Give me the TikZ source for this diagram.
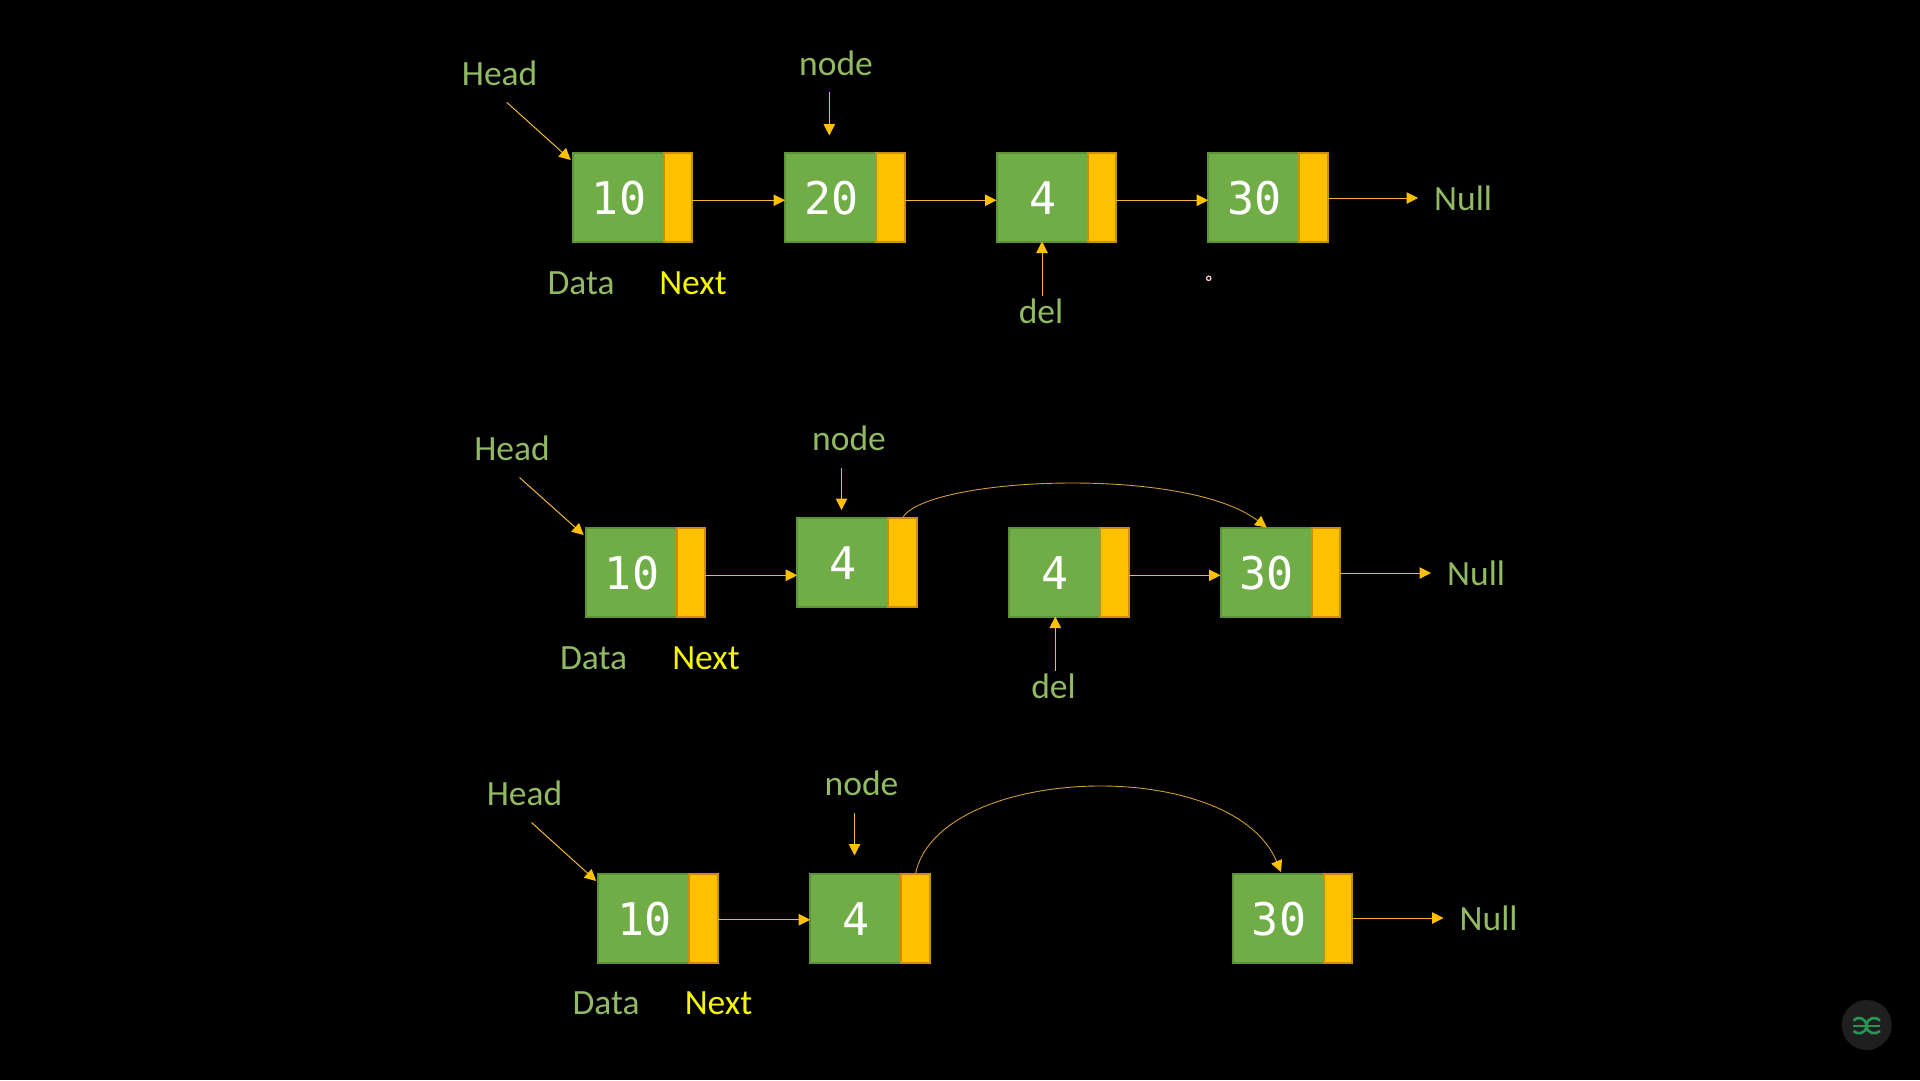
\documentclass[tikz,border=0pt]{standalone}
\usepackage{fontspec}
\setmainfont{Carlito}
\newfontfamily\nummono{DejaVu Sans Mono}
\usetikzlibrary{arrows.meta}
\definecolor{cellgreen}{HTML}{70AD47}
\definecolor{cellgreenb}{HTML}{5E9238}
\definecolor{cellyellow}{HTML}{FFC000}
\definecolor{cellyellowb}{HTML}{CC8F0A}
\definecolor{lblgreen}{HTML}{92BA64}
\definecolor{lblyellow}{HTML}{F6F600}
\definecolor{wire}{HTML}{F2B640}
\tikzset{
  datacell/.style={draw=cellgreenb,fill=cellgreen,line width=2pt,minimum width=91pt,minimum height=88.5pt,inner sep=0pt,outer sep=0pt,anchor=north west},
  cellnum/.style={text=white,font=\nummono\fontsize{45pt}{46pt}\selectfont,inner sep=0pt},
  nextcell/.style={draw=cellyellowb,fill=cellyellow,line width=2pt,minimum width=28.5pt,minimum height=88.5pt,inner sep=0pt,outer sep=0pt,anchor=north west},
  lbl/.style={text=lblgreen,font=\fontsize{35.5pt}{37pt}\selectfont,inner sep=0pt},
  lblnext/.style={text=lblyellow,font=\fontsize{35.5pt}{37pt}\selectfont,inner sep=0pt},
  conn/.style={draw=wire,line width=1pt,-{Triangle[length=11.5pt,width=11.5pt,color=cellyellow]}},
  thincurve/.style={draw=wire!85!black,line width=0.9pt,-{Triangle[length=11.5pt,width=11.5pt,color=cellyellow]}}
}
% name, x, y, text
\newcommand{\llcell}[4]{%
  \node[datacell] (#1) at (#2+0.7,#3+0.5) {};
  \node[nextcell] (#1y) at (#2+91.7,#3+0.5) {};
  \node[cellnum] (#1t) at (#2+47,#3+45.5) {#4};
}
% from-cell to-cell
\newcommand{\lllink}[2]{\draw[conn] ([yshift=-3pt]#1y.east) -- ([yshift=-3pt]#2.west);}
\begin{document}
\begin{tikzpicture}[x=1pt,y=-1pt]
\useasboundingbox (0,0) rectangle (1920,1080);
\fill[black] (0,0) rectangle (1920,1080);

% ---- Row 1
\llcell{a1}{572}{152.5}{10}
\llcell{a2}{784.3}{152.5}{20}
\llcell{a3}{995.8}{152.5}{4}
\llcell{a4}{1207.5}{152.5}{30}
\lllink{a1}{a2}
\lllink{a2}{a3}
\lllink{a3}{a4}
\node[lbl] (headA) at (499.6,73) {Head};
\node[lbl] (nodeA) at (836,63) {node};
\node[lbl] (dataA) at (581,283.5) {Data};
\node[lblnext] (nextA) at (693,283.5) {Next};
\node[lbl] (delA) at (1041,311.5) {del};
\node[lbl,anchor=west] (nullA) at (1434,198.5) {Null};
\coordinate (hsA) at (506.7,102.3);
\coordinate (hnA) at (829.3,92.3);
\coordinate (hnAe) at (829.3,135.5);
\coordinate (dsA) at (1042,296);
\coordinate (nsA) at (1418,198);
\draw[conn] (hsA) -- ([xshift=-2pt,yshift=-7pt]a1.north west);
\draw[conn] (hnA) -- (hnAe);
\draw[conn] (dsA) -- (a3.south -| dsA);
\draw[conn] (a4y.east |- nsA) -- (nsA);

% ---- Row 2
\llcell{b1}{585}{527.5}{10}
\llcell{b2}{796.5}{517.5}{4}
\llcell{b3}{1008.5}{527.5}{4}
\llcell{b4}{1219.8}{527.5}{30}
\draw[conn] ([yshift=-3pt]b1y.east) -- ([yshift=-3pt]b1y.east -| b2.west);
\draw[conn] ([yshift=-3pt]b3y.east) -- ([yshift=-3pt]b4.west);
\node[lbl] (headB) at (512,448) {Head};
\node[lbl] (nodeB) at (849,438) {node};
\node[lbl] (dataB) at (593.5,658.5) {Data};
\node[lblnext] (nextB) at (706,658.5) {Next};
\node[lbl] (delB) at (1053.5,686.5) {del};
\node[lbl,anchor=west] (nullB) at (1447,573) {Null};
\coordinate (hsB) at (519.5,477.5);
\coordinate (hnB) at (841.5,467.5);
\coordinate (hnBe) at (841.5,510);
\coordinate (dsB) at (1055.3,670.7);
\coordinate (nsB) at (1431,573);
\draw[conn] (hsB) -- ([xshift=-2pt,yshift=-7pt]b1.north west);
\draw[conn] (hnB) -- (hnBe);
\draw[conn] (dsB) -- (b3.south -| dsB);
\draw[conn] (b4y.east |- nsB) -- (nsB);
\coordinate (cvBe) at (1266.7,527.5);
\draw[thincurve] (b2y.north) .. controls (925,477) and (1185,465) .. (cvBe);

% ---- Row 3
\llcell{c1}{597.5}{873.5}{10}
\llcell{c2}{809.5}{873.5}{4}
\llcell{c3}{1232}{873.5}{30}
\draw[conn] ([yshift=-1.5pt]c1y.east) -- ([yshift=-1.5pt]c2.west);
\node[lbl] (headC) at (524.5,793) {Head};
\node[lbl] (nodeC) at (861.5,783) {node};
\node[lbl] (dataC) at (606,1003.5) {Data};
\node[lblnext] (nextC) at (718.5,1003.5) {Next};
\node[lbl,anchor=west] (nullC) at (1459.5,918.5) {Null};
\coordinate (hsC) at (531.5,822.5);
\coordinate (hnC) at (854.5,812.5);
\coordinate (hnCe) at (854.5,855.5);
\coordinate (nsC) at (1443.5,918);
\draw[conn] (hsC) -- ([xshift=-2pt,yshift=-7pt]c1.north west);
\draw[conn] (hnC) -- (hnCe);
\draw[conn] (c3y.east |- nsC) -- (nsC);
\coordinate (cvCe) at (1281,872);
\draw[thincurve] (c2y.north) .. controls (938,764) and (1232,754) .. (cvCe);

% ---- cursor dot
\draw[draw=pink!70!white,line width=1.2pt] (1208.7,278.3) circle[radius=2.2];

% ---- logo badge
\fill[black!88!white] (1866.7,1025) circle[radius=25];
\begin{scope}[draw={rgb,255:red,38;green,150;blue,85},line width=2.6pt]
  \draw (1853,1026) -- (1880,1026);
  \draw (1853.5,1020.5) .. controls (1857,1016) and (1866,1017) .. (1866.5,1026) .. controls (1866,1034) and (1857,1035) .. (1853.5,1031);
  \draw (1880,1020.5) .. controls (1876,1016) and (1867,1017) .. (1866.5,1026) .. controls (1867,1034) and (1876,1035) .. (1880,1031);
\end{scope}
\end{tikzpicture}
\end{document}
